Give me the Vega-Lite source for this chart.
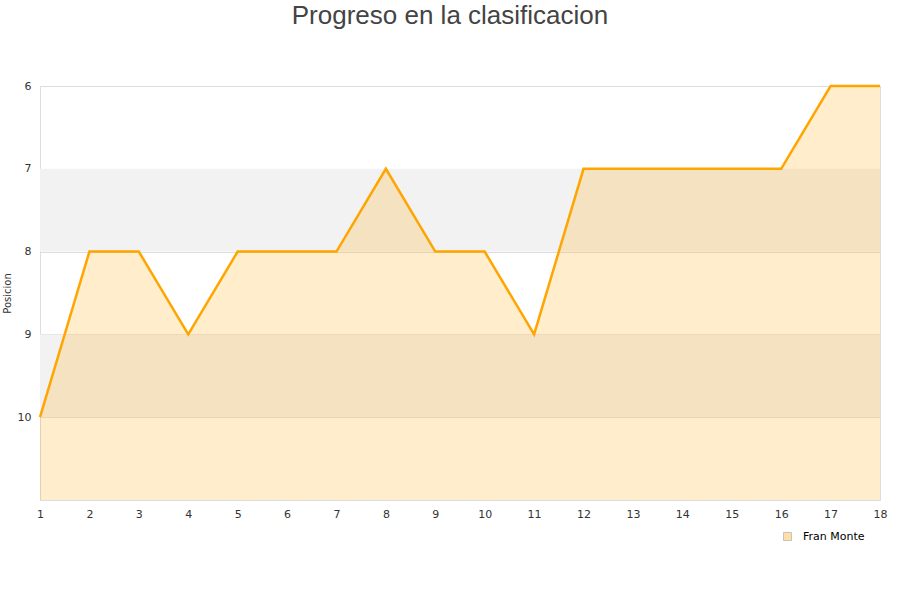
{
  "$schema": "https://vega.github.io/schema/vega-lite/v6.json",
  "width": 840,
  "height": 414,
  "autosize": "none",
  "padding": {"left": 40, "top": 86, "right": 20, "bottom": 100},
  "background": "white",
  "title": {
    "text": "Progreso en la clasificacion",
    "font": "Liberation Sans",
    "fontSize": 26,
    "fontWeight": "normal",
    "color": "#444444",
    "anchor": "middle",
    "dx": -10,
    "offset": 51
  },
  "config": {
    "view": {"stroke": "#dddddd", "strokeWidth": 1},
    "axis": {
      "labelFont": "DejaVu Sans",
      "labelFontSize": 11,
      "labelColor": "#333333",
      "titleFont": "DejaVu Sans",
      "titleFontSize": 10,
      "titleFontWeight": "normal",
      "titleColor": "#333333",
      "ticks": false,
      "domain": false
    }
  },
  "datasets": {
    "progreso": [
      {"jornada": 1, "posicion": 10, "jugador": "Fran Monte"},
      {"jornada": 2, "posicion": 8, "jugador": "Fran Monte"},
      {"jornada": 3, "posicion": 8, "jugador": "Fran Monte"},
      {"jornada": 4, "posicion": 9, "jugador": "Fran Monte"},
      {"jornada": 5, "posicion": 8, "jugador": "Fran Monte"},
      {"jornada": 6, "posicion": 8, "jugador": "Fran Monte"},
      {"jornada": 7, "posicion": 8, "jugador": "Fran Monte"},
      {"jornada": 8, "posicion": 7, "jugador": "Fran Monte"},
      {"jornada": 9, "posicion": 8, "jugador": "Fran Monte"},
      {"jornada": 10, "posicion": 8, "jugador": "Fran Monte"},
      {"jornada": 11, "posicion": 9, "jugador": "Fran Monte"},
      {"jornada": 12, "posicion": 7, "jugador": "Fran Monte"},
      {"jornada": 13, "posicion": 7, "jugador": "Fran Monte"},
      {"jornada": 14, "posicion": 7, "jugador": "Fran Monte"},
      {"jornada": 15, "posicion": 7, "jugador": "Fran Monte"},
      {"jornada": 16, "posicion": 7, "jugador": "Fran Monte"},
      {"jornada": 17, "posicion": 6, "jugador": "Fran Monte"},
      {"jornada": 18, "posicion": 6, "jugador": "Fran Monte"}
    ],
    "bandas": [
      {"desde": 7, "hasta": 8, "inicio": 1, "fin": 18},
      {"desde": 9, "hasta": 10, "inicio": 1, "fin": 18}
    ]
  },
  "layer": [
    {
      "data": {"name": "bandas"},
      "mark": {"type": "rect", "color": "#f2f2f2"},
      "encoding": {
        "x": {
          "field": "inicio",
          "type": "quantitative",
          "scale": {"domain": [1, 18], "nice": false, "zero": false},
          "axis": {"title": null, "values": [1,2,3,4,5,6,7,8,9,10,11,12,13,14,15,16,17,18], "grid": false, "labelPadding": 8, "labelFlush": false, "labelOverlap": false, "format": "d"}
        },
        "x2": {"field": "fin"},
        "y": {
          "field": "desde",
          "type": "quantitative",
          "scale": {"domain": [6, 11], "reverse": true, "nice": false, "zero": false},
          "axis": {"title": "Posicion", "values": [6,7,8,9,10], "format": "d", "gridColor": "#dddddd", "labelPadding": 9, "titlePadding": 5}
        },
        "y2": {"field": "hasta"}
      }
    },
    {
      "data": {"name": "progreso"},
      "mark": {"type": "area", "opacity": 0.2},
      "encoding": {
        "x": {"field": "jornada", "type": "quantitative"},
        "y": {"field": "posicion", "type": "quantitative"},
        "y2": {"datum": 11},
        "color": {
          "field": "jugador",
          "type": "nominal",
          "scale": {"range": ["#ffa500"]},
          "legend": {
            "title": null,
            "orient": "none",
            "legendX": 742,
            "legendY": 445,
            "symbolType": "square",
            "symbolSize": 64,
            "symbolOpacity": 0.35,
            "symbolStrokeColor": "#555555",
            "symbolStrokeWidth": 1,
            "labelOffset": 10,
            "labelFont": "DejaVu Sans",
            "labelFontSize": 11,
            "labelColor": "#000000"
          }
        }
      }
    },
    {
      "data": {"name": "progreso"},
      "mark": {"type": "line", "color": "#ffa500", "strokeWidth": 2.5},
      "encoding": {
        "x": {"field": "jornada", "type": "quantitative"},
        "y": {"field": "posicion", "type": "quantitative"}
      }
    }
  ]
}
